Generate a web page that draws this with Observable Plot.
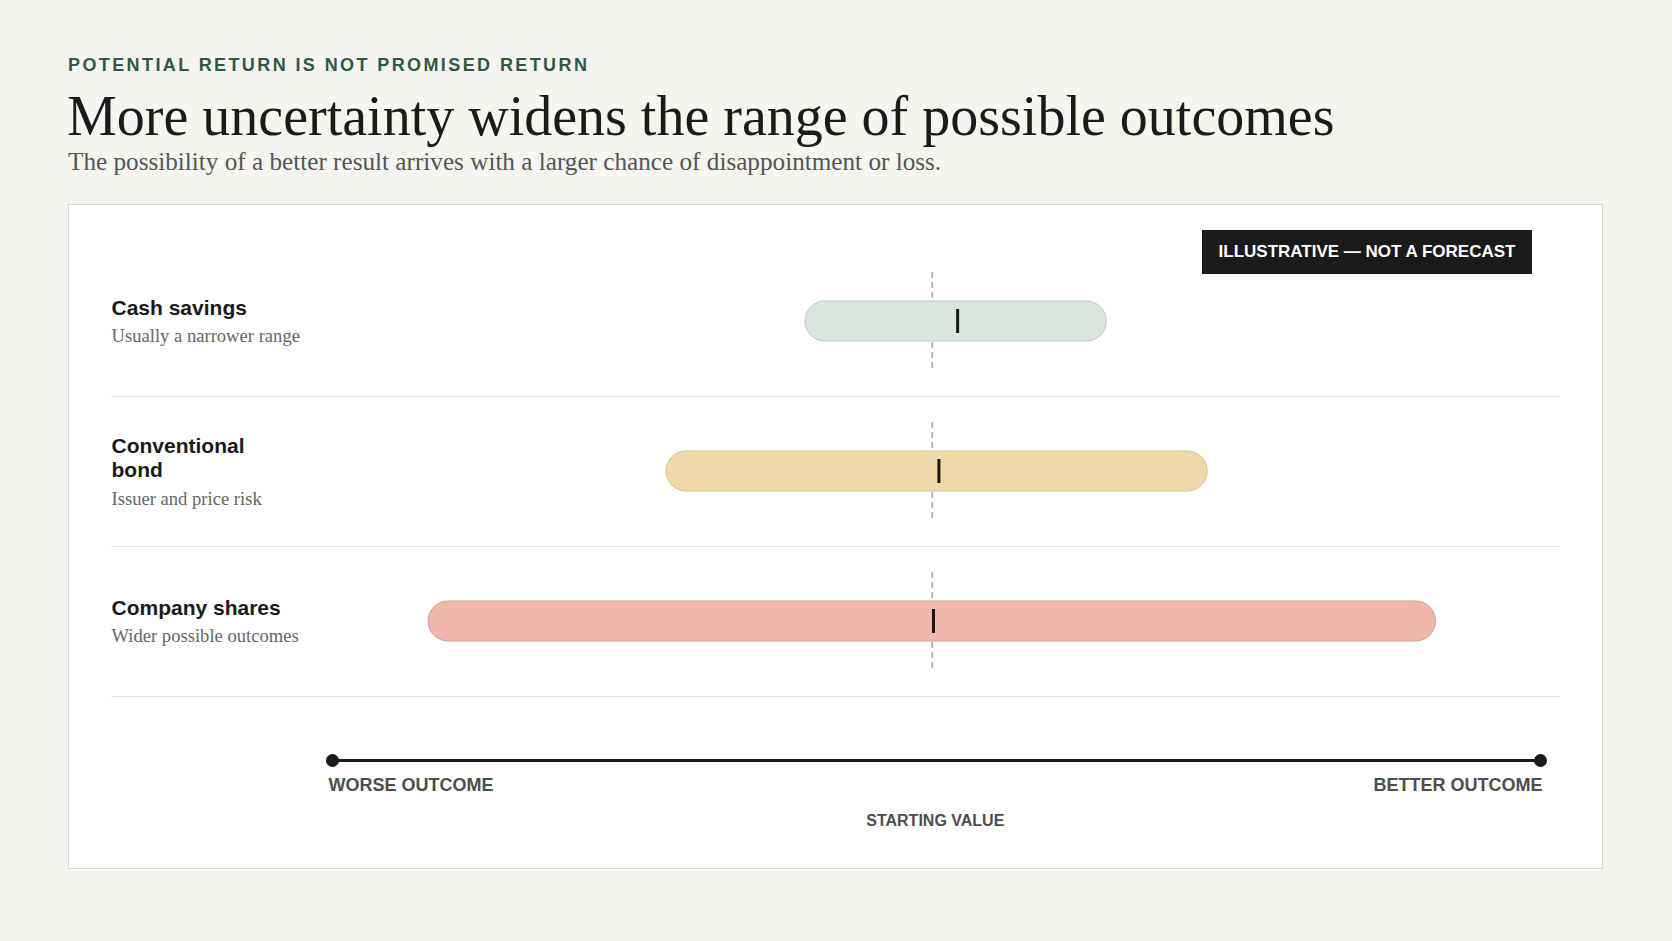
<!DOCTYPE html>
<html>
<head>
<meta charset="utf-8">
<script src="https://cdn.jsdelivr.net/npm/d3@7"></script>
<script src="https://cdn.jsdelivr.net/npm/@observablehq/plot@0.6"></script>
<style>
  html, body { margin: 0; padding: 0; }
  body { background: #f6f5f0; width: 1672px; height: 941px; position: relative; overflow: hidden; }
  .eyebrow { position: absolute; left: 68px; top: 56px; font: bold 18px/18px "Liberation Sans", Arial, sans-serif; letter-spacing: 2.4px; color: #2d5a44; white-space: nowrap; }
  .title { position: absolute; left: 67px; top: 88px; font: 56px/56px "Liberation Serif", serif; color: #1b1b1b; white-space: nowrap; margin: 0; }
  .subtitle { position: absolute; left: 68px; top: 149px; font: 25.2px/25.2px "Liberation Serif", serif; color: #555; white-space: nowrap; margin: 0; }
  #card { position: absolute; left: 68px; top: 204px; width: 1533px; height: 663px; border: 1px solid #d6d6d0; background: #fff; }
  #badge { position: absolute; left: 1133px; top: 25px; width: 330px; height: 44px; line-height: 44px; text-align: center; background: #1a1a1a; color: #fff; font: bold 17px/44px "Liberation Sans", Arial, sans-serif; white-space: nowrap; }
  #chart { position: absolute; left: 0; top: 0; }
</style>
</head>
<body>
<div class="eyebrow">POTENTIAL RETURN IS NOT PROMISED RETURN</div>
<h1 class="title">More uncertainty widens the range of possible outcomes</h1>
<p class="subtitle">The possibility of a better result arrives with a larger chance of disappointment or loss.</p>
<div id="card">
  <div id="chart"></div>
  <div id="badge">ILLUSTRATIVE — NOT A FORECAST</div>
</div>
<script>
// ---- data (outcome units; 0 = starting value) ----
const categories = ["Cash savings", "Conventional bond", "Company shares"];
const rowLabels = ["Cash savings", "Conventional\nbond", "Company shares"];
const rowNotes = ["Usually a narrower range", "Issuer and price risk", "Wider possible outcomes"];
const lowOutcome = [-21.0, -44.0, -83.4];
const highOutcome = [28.9, 45.6, 83.4];
const typicalOutcome = [4.2, 1.1, 0.2];
const startValue = 0;
const axisEnds = [-99.3, 100.7];
const axisLabels = ["WORSE OUTCOME", "BETTER OUTCOME"];
const startLabel = "STARTING VALUE";
const axisRow = "Outcome scale";

const fills = ["#d9e6de", "#f0d9a9", "#eeb7aa"];
const strokes = ["#b9cabe", "#dcc08b", "#d79c8f"];

const rows = categories.map((c, i) => ({
  category: c, label: rowLabels[i], note: rowNotes[i],
  lo: lowOutcome[i], hi: highOutcome[i], mid: typicalOutcome[i],
  fill: fills[i], stroke: strokes[i], lines: rowLabels[i].split("\n").length
}));

const sans = "'Liberation Sans', Arial, sans-serif";
const serif = "'Liberation Serif', serif";

const chart = Plot.plot({
  width: 1533,
  height: 663,
  marginLeft: 263,
  marginRight: 62,
  marginTop: 41,
  marginBottom: 22,
  x: {domain: axisEnds, axis: null},
  y: {type: "band", domain: [...categories, axisRow], padding: 0, axis: null},
  style: {background: "transparent", overflow: "visible"},
  marks: [
    // row separators
    Plot.ruleY(categories, {y: d => d, dy: 75, insetLeft: -221, insetRight: -20, stroke: "#e4e4e1", strokeWidth: 1.2}),
    // starting value reference
    Plot.ruleX(rows, {x: () => startValue, y1: "category", y2: "category", insetTop: 26, insetBottom: 26, stroke: "#ababab", strokeWidth: 1.6, strokeDasharray: "6,4"}),
    // outcome range bars
    Plot.barX(rows, {x1: "lo", x2: "hi", y: "category", insetTop: 55, insetBottom: 55, rx: 20, fill: "fill", stroke: "stroke", strokeWidth: 1}),
    // typical outcome ticks
    Plot.tickX(rows, {x: "mid", y: "category", insetTop: 63, insetBottom: 63, stroke: "#161616", strokeWidth: 3}),
    // row titles
    Plot.text(rows, {y: "category", text: "label", frameAnchor: "left", textAnchor: "start", lineAnchor: "middle", dx: -221, dy: -14.2, lineHeight: 1.13, fontSize: 21, fontWeight: "bold", fontFamily: sans, fill: "#1a1a1a"}),
    Plot.text(rows.filter(d => d.lines === 1), {y: "category", text: "note", frameAnchor: "left", textAnchor: "start", lineAnchor: "bottom", dx: -221, dy: 20.5, fontSize: 18.6, fontFamily: serif, fill: "#666"}),
    Plot.text(rows.filter(d => d.lines === 2), {y: "category", text: "note", frameAnchor: "left", textAnchor: "start", lineAnchor: "bottom", dx: -221, dy: 33.8, fontSize: 18.6, fontFamily: serif, fill: "#666"}),
    // outcome scale
    Plot.ruleY([axisRow], {y: d => d, x1: axisEnds[0], x2: axisEnds[1], dy: -11, stroke: "#1a1a1a", strokeWidth: 3}),
    Plot.dot(axisEnds, {x: d => d, y: () => axisRow, dy: -11, r: 6.5, fill: "#1a1a1a", stroke: "none"}),
    Plot.text([axisEnds[0]], {x: d => d, y: () => axisRow, text: () => axisLabels[0], textAnchor: "start", lineAnchor: "bottom", dx: -4, dy: 19.5, fontSize: 18, fontWeight: "bold", fontFamily: sans, fill: "#4d4d4d"}),
    Plot.text([axisEnds[1]], {x: d => d, y: () => axisRow, text: () => axisLabels[1], textAnchor: "end", lineAnchor: "bottom", dx: 2, dy: 19.5, fontSize: 18, fontWeight: "bold", fontFamily: sans, fill: "#4d4d4d"}),
    Plot.text([startValue], {x: d => d, y: () => axisRow, text: () => startLabel, textAnchor: "middle", lineAnchor: "bottom", dx: 3, dy: 54, fontSize: 16, fontWeight: "bold", fontFamily: sans, fill: "#4d4d4d"})
  ]
});
document.getElementById("chart").appendChild(chart);
</script>
</body>
</html>
